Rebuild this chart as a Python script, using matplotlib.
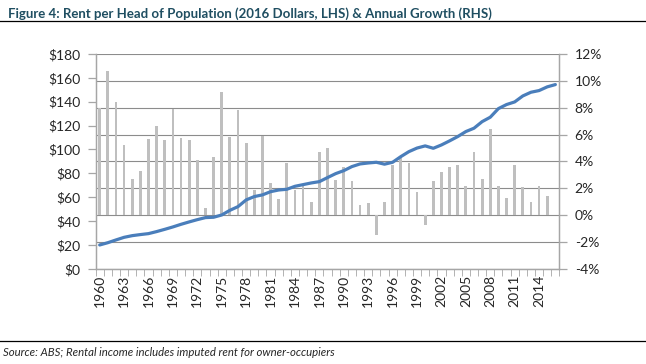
import matplotlib
matplotlib.use("Agg")
import matplotlib.pyplot as plt
from matplotlib.lines import Line2D
from matplotlib.ticker import FixedLocator

plt.rcParams['font.family'] = ['Lato', 'DejaVu Sans']

# Data
years = list(range(1960, 2017))

# Rent per head of population, 2016 dollars (LHS)
rent_per_head = [
    20.1, 22.0, 24.3, 26.5, 27.9, 28.8, 29.6, 31.3, 33.2, 35.2,
    37.4, 39.4, 41.3, 43.0, 43.3, 45.2, 49.1, 52.2, 57.8, 60.6,
    62.0, 64.7, 66.1, 66.7, 69.2, 70.6, 72.0, 73.1, 76.5, 79.8,
    82.3, 85.7, 87.9, 88.7, 89.3, 87.7, 89.3, 94.0, 98.2, 101.2,
    103.0, 101.0, 103.8, 107.2, 110.8, 115.0, 117.8, 123.3, 127.0, 134.2,
    137.6, 139.8, 144.8, 147.9, 149.3, 152.4, 154.3,
]

# Annual growth, % (RHS) - no bar for 2016
annual_growth = [
    8.0, 10.7, 8.4, 5.2, 2.7, 3.3, 5.7, 6.6, 5.6, 7.9,
    5.75, 5.6, 4.1, 0.5, 4.3, 9.2, 5.8, 7.8, 5.4, 1.9,
    5.9, 2.4, 1.2, 3.9, 1.9, 2.2, 1.0, 4.7, 5.0, 2.6,
    3.6, 2.55, 0.75, 0.9, -1.5, 1.0, 3.7, 4.4, 3.85, 1.7,
    -0.75, 2.55, 3.2, 3.55, 3.7, 2.2, 4.7, 2.7, 6.4, 2.2,
    1.3, 3.75, 2.1, 0.95, 2.2, 1.4,
]

dollar_ticks = list(range(0, 181, 20))
pct_ticks = list(range(-4, 13, 2))

title = "Figure 4: Rent per Head of Population (2016 Dollars, LHS) & Annual Growth (RHS)"
source = "Source: ABS; Rental income includes imputed rent for owner-occupiers"

axis_grey = '#a6a6a6'
text_col = '#262626'

fig = plt.figure(figsize=(6.46, 3.64), dpi=100)
ax_bar = fig.add_axes([0.148, 0.261, 0.718, 0.591])
ax_line = ax_bar.twinx()

x = list(range(len(years)))

# bars on the growth scale
ax_bar.bar(x[:len(annual_growth)], annual_growth, width=0.34, color='#bfbfbf', zorder=2)
ax_bar.set_ylim(-4, 12)
ax_bar.set_yticks(pct_ticks)
ax_bar.set_yticklabels([f"{t}%" for t in pct_ticks])
ax_bar.yaxis.tick_right()
ax_bar.grid(axis='y', color='#8c8c8c', linewidth=0.8)
ax_bar.set_axisbelow(True)

# line on the dollar scale
ax_line.plot(x, rent_per_head, color='#4a7ebb', linewidth=2.3, solid_capstyle='round')
ax_line.set_ylim(0, 180)
ax_line.set_yticks(dollar_ticks)
ax_line.set_yticklabels([f"${t}" for t in dollar_ticks])
ax_line.yaxis.tick_left()

# x axis: tick marks between categories, labels every third year
ax_bar.set_xlim(-0.5, len(years) - 0.5)
lab_pos = x[::3]
ax_bar.set_xticks(lab_pos)
ax_bar.set_xticklabels([str(years[i]) for i in lab_pos], rotation=90)
ax_bar.xaxis.set_minor_locator(FixedLocator([i - 0.5 for i in range(len(years) + 1)]))
ax_bar.tick_params(axis='x', which='major', length=0, pad=4)
ax_bar.tick_params(axis='x', which='minor', length=5, color=axis_grey, direction='out')

for a in (ax_bar, ax_line):
    a.spines['top'].set_visible(False)
    for s in ('left', 'right', 'bottom'):
        a.spines[s].set_color(axis_grey)
        a.spines[s].set_linewidth(0.9)
    a.tick_params(axis='both', labelsize=10, labelcolor=text_col)
    a.tick_params(axis='y', length=6, color=axis_grey, width=0.9, pad=5)

# title, rules and source note
fig.text(0.012, 0.962, title, fontsize=9.5, fontweight='bold', color='#1f4e61',
         ha='left', va='center')
fig.add_artist(Line2D([0, 1], [0.942, 0.942], color='black', linewidth=0.9))
fig.add_artist(Line2D([0, 1], [0.063, 0.063], color='black', linewidth=0.9))
fig.text(0.005, 0.032, source, fontsize=8.2, fontstyle='italic', color=text_col,
         ha='left', va='center')

fig.savefig('out.png', dpi=100)
